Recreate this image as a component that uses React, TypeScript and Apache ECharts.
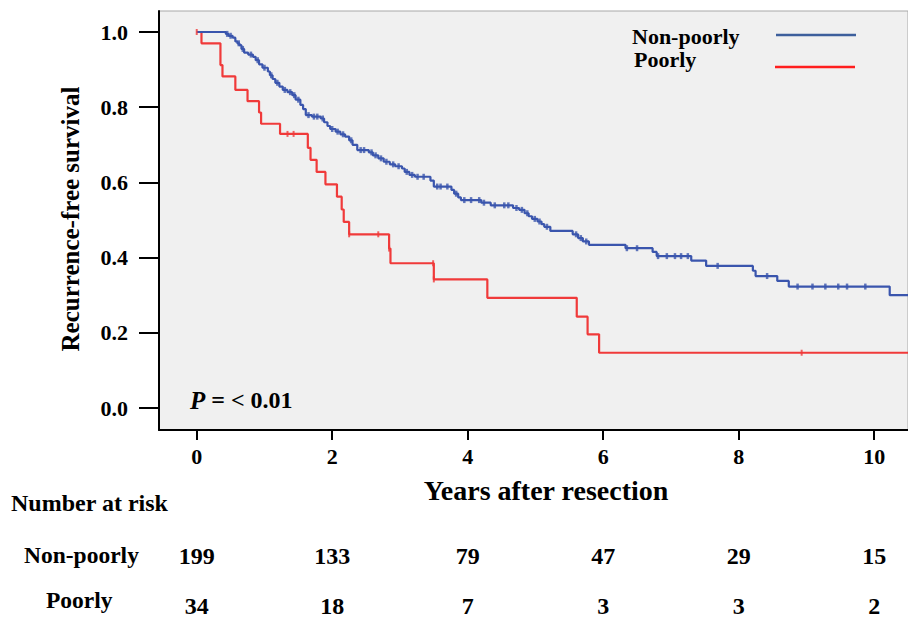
import React, { useEffect, useRef } from 'react';
import * as echarts from 'echarts';

const FONT = '"Liberation Serif", "Times New Roman", Times, serif';

const seriesNames = ['Non-poorly', 'Poorly'];
const xTicks = [0, 2, 4, 6, 8, 10];
const yTicks = [0, 0.2, 0.4, 0.6, 0.8, 1.0];

// Kaplan-Meier steps: [time (years), survival after the event]
const nonPoorlySteps: [number, number][] = [
  [0, 1.0], [0.43, 0.995], [0.47, 0.99], [0.53, 0.985], [0.57, 0.975], [0.6, 0.97],
  [0.63, 0.965], [0.66, 0.955], [0.7, 0.945], [0.76, 0.94], [0.83, 0.934], [0.87, 0.925],
  [0.92, 0.914], [0.97, 0.905], [1.05, 0.895], [1.08, 0.885], [1.12, 0.875], [1.16, 0.865],
  [1.22, 0.855], [1.27, 0.846], [1.34, 0.84], [1.41, 0.832], [1.46, 0.82], [1.53, 0.806],
  [1.57, 0.795], [1.61, 0.779], [1.7, 0.775], [1.83, 0.77], [1.88, 0.76], [1.93, 0.75],
  [1.97, 0.742], [2.05, 0.735], [2.12, 0.728], [2.19, 0.722], [2.25, 0.712], [2.3, 0.7],
  [2.37, 0.686], [2.54, 0.68], [2.6, 0.672], [2.68, 0.664], [2.76, 0.655], [2.85, 0.648],
  [2.93, 0.643], [3.03, 0.637], [3.07, 0.628], [3.14, 0.62], [3.22, 0.615], [3.45, 0.605],
  [3.5, 0.589], [3.76, 0.58], [3.8, 0.57], [3.86, 0.56], [3.9, 0.553], [4.2, 0.546],
  [4.34, 0.539], [4.67, 0.532], [4.76, 0.527], [4.84, 0.518], [4.9, 0.51], [4.95, 0.503],
  [5.03, 0.496], [5.09, 0.489], [5.13, 0.482], [5.22, 0.471], [5.55, 0.462], [5.63, 0.452],
  [5.7, 0.443], [5.79, 0.434], [6.33, 0.425], [6.73, 0.415], [6.79, 0.404], [7.3, 0.392],
  [7.52, 0.378], [8.21, 0.365], [8.25, 0.351], [8.57, 0.338], [8.74, 0.323], [10.23, 0.3],
  [10.6, 0.3],
];

const poorlySteps: [number, number][] = [
  [0, 1.0], [0.07, 0.97], [0.35, 0.912], [0.38, 0.882], [0.57, 0.846], [0.75, 0.816],
  [0.92, 0.786], [0.95, 0.756], [1.23, 0.729], [1.64, 0.692], [1.68, 0.66], [1.77, 0.628],
  [1.9, 0.595], [2.07, 0.562], [2.14, 0.528], [2.17, 0.495], [2.25, 0.462], [2.84, 0.424],
  [2.86, 0.385], [3.5, 0.342], [4.29, 0.293], [5.61, 0.243], [5.77, 0.196], [5.94, 0.147],
  [10.6, 0.147],
];

// censoring times (years)
const nonPoorlyCensor = [
  0.45, 0.5, 0.62, 0.68, 0.8, 0.9, 1.0, 1.1, 1.19, 1.3, 1.38, 1.44, 1.5, 1.65, 1.73, 1.78,
  1.86, 2.0, 2.08, 2.16, 2.28, 2.42, 2.47, 2.58, 2.64, 2.72, 2.8, 2.9, 2.98, 3.1, 3.18, 3.26,
  3.35, 3.55, 3.6, 3.7, 3.83, 3.95, 4.05, 4.17, 4.24, 4.4, 4.54, 4.6, 4.72, 4.8, 4.88, 4.99,
  5.06, 5.17, 5.6, 5.67, 5.75, 6.35, 6.5, 6.81, 6.94, 7.06, 7.15, 7.25, 7.69, 8.42, 8.87,
  9.09, 9.28, 9.47, 9.6, 9.87,
];
const poorlyCensor = [0.0, 1.34, 1.43, 2.25, 2.68, 2.84, 3.49, 3.5, 8.93];

const riskTimes = [0, 2, 4, 6, 8, 10];
const riskNonPoorly = [199, 133, 79, 47, 29, 15];
const riskPoorly = [34, 18, 7, 3, 3, 2];

const BLUE = '#3a55ad';
const RED = '#f03a3a';

function survAt(steps: [number, number][], t: number): number {
  let s = steps[0][1];
  for (const [tt, ss] of steps) {
    if (tt <= t) s = ss;
    else break;
  }
  return s;
}

function txt(text: string, x: number, y: number, size: number, align = 'left', extra: any = {}) {
  return {
    type: 'text',
    x,
    y,
    silent: true,
    ...extra,
    style: {
      text,
      font: `bold ${size}px ${FONT}`,
      fill: '#000',
      textAlign: align,
      textVerticalAlign: 'middle',
    },
  };
}

export default function App() {
  const ref = useRef<HTMLDivElement>(null);

  useEffect(() => {
    if (!ref.current) return;
    const chart = echarts.init(ref.current, undefined, { renderer: 'svg' });

    const labelStyle = {
      fontSize: 22,
      fontWeight: 'bold',
      fontFamily: FONT,
      color: '#000',
    };

    chart.setOption({
      animation: false,
      backgroundColor: '#ffffff',
      grid: {
        left: 159,
        top: 11,
        right: -5,
        bottom: 188,
        show: true,
        backgroundColor: '#f0f0f0',
        borderColor: '#a8a8a8',
        borderWidth: 1,
      },
      xAxis: {
        type: 'value',
        min: -0.557,
        max: 10.5,
        axisLine: { show: true, onZero: false, lineStyle: { color: '#000', width: 2 } },
        axisTick: { show: true, length: 10, customValues: xTicks, lineStyle: { color: '#000', width: 2 } },
        axisLabel: { ...labelStyle, customValues: xTicks, margin: 15, lineHeight: 22 },
        splitLine: { show: false },
      },
      yAxis: {
        type: 'value',
        min: -0.0585,
        max: 1.0559,
        axisLine: { show: true, onZero: false, lineStyle: { color: '#000', width: 2 } },
        axisTick: { show: true, length: 20, customValues: yTicks, lineStyle: { color: '#000', width: 2 } },
        axisLabel: {
          ...labelStyle,
          customValues: yTicks,
          margin: 31,
          formatter: (v: number) => v.toFixed(1),
        },
        splitLine: { show: false },
      },
      series: [
        {
          name: seriesNames[0],
          type: 'line',
          step: 'end',
          data: nonPoorlySteps,
          showSymbol: false,
          symbol: 'none',
          lineStyle: { color: BLUE, width: 2.2 },
          z: 3,
          silent: true,
        },
        {
          name: seriesNames[1],
          type: 'line',
          step: 'end',
          data: poorlySteps,
          showSymbol: false,
          symbol: 'none',
          lineStyle: { color: RED, width: 2.2 },
          z: 2,
          silent: true,
        },
        {
          name: seriesNames[0] + ' censored',
          type: 'scatter',
          data: nonPoorlyCensor.map((t) => [t, survAt(nonPoorlySteps, t)]),
          symbol: 'rect',
          symbolSize: [2.5, 6],
          itemStyle: { color: BLUE },
          z: 4,
          silent: true,
        },
        {
          name: seriesNames[1] + ' censored',
          type: 'scatter',
          data: poorlyCensor.map((t) => [t, survAt(poorlySteps, t)]),
          symbol: 'rect',
          symbolSize: [2, 6],
          itemStyle: { color: RED },
          z: 4,
          silent: true,
        },
      ],
    });

    const px = (t: number) => chart.convertToPixel({ xAxisIndex: 0 }, t) as unknown as number;

    const graphic: any[] = [
      txt('Recurrence-free survival', 70, 219, 25, 'center', { rotation: Math.PI / 2 }),
      txt('Years after resection', 546, 490, 28, 'center'),
      {
        type: 'text',
        x: 190,
        y: 400,
        silent: true,
        style: {
          text: '{i|P}{n| = < 0.01}',
          textVerticalAlign: 'middle',
          rich: {
            i: { fontFamily: FONT, fontSize: 25, fontWeight: 'bold', fontStyle: 'italic', fill: '#000', color: '#000' },
            n: { fontFamily: FONT, fontSize: 24, fontWeight: 'bold', fill: '#000', color: '#000' },
          },
        },
      },
      txt(seriesNames[0], 632, 36, 22),
      txt(seriesNames[1], 634, 59, 22),
      {
        type: 'line',
        silent: true,
        shape: { x1: 776, y1: 35, x2: 856, y2: 35 },
        style: { stroke: '#3d5f9c', lineWidth: 2.5 },
      },
      {
        type: 'line',
        silent: true,
        shape: { x1: 775, y1: 67, x2: 855, y2: 67 },
        style: { stroke: '#ff1e1e', lineWidth: 2.5 },
      },
      txt('Number at risk', 11, 503, 24),
      txt(seriesNames[0], 24, 555, 23.5),
      txt(seriesNames[1], 46, 600, 23.5),
    ];
    riskTimes.forEach((t, i) => {
      const x = px(t);
      graphic.push(txt(String(riskNonPoorly[i]), x, 556, 24, 'center'));
      graphic.push(txt(String(riskPoorly[i]), x, 606, 24, 'center'));
    });

    chart.setOption({ graphic });

    return () => {
      chart.dispose();
    };
  }, []);

  return (
    <div
      ref={ref}
      style={{ position: 'fixed', left: 0, top: 0, width: 908, height: 618, background: '#fff' }}
    />
  );
}
